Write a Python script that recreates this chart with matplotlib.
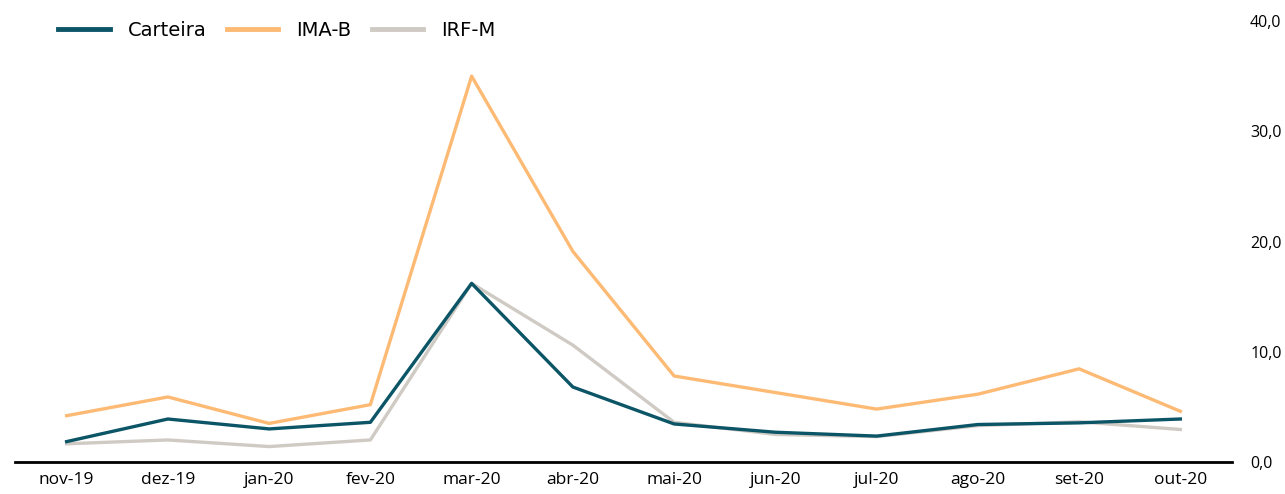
import numpy as np
import matplotlib.pyplot as plt
from matplotlib.lines import Line2D

meses = ["nov-19", "dez-19", "jan-20", "fev-20", "mar-20", "abr-20",
         "mai-20", "jun-20", "jul-20", "ago-20", "set-20", "out-20"]

carteira = [1.85, 3.9, 3.0, 3.6, 16.2, 6.8, 3.45, 2.7, 2.35, 3.4, 3.55, 3.9]
ima_b = [4.2, 5.9, 3.5, 5.2, 35.0, 19.1, 7.8, 6.3, 4.8, 6.15, 8.45, 4.6]
irf_m = [1.65, 2.0, 1.4, 2.0, 16.2, 10.6, 3.6, 2.5, 2.3, 3.3, 3.65, 2.95]

yticks = [0, 10, 20, 30, 40]

cores = {"Carteira": "#0B5567", "IMA-B": "#FDBA74", "IRF-M": "#D0CAC4"}

fig = plt.figure(figsize=(12.85, 4.94), dpi=100)
ax = fig.add_axes([15/1285, 32/494, (1232-15)/1285, (462-21)/494])

x = np.arange(len(meses))
ax.plot(x, irf_m, color=cores["IRF-M"], lw=2.4, zorder=2)
ax.plot(x, ima_b, color=cores["IMA-B"], lw=2.4, zorder=3)
ax.plot(x, carteira, color=cores["Carteira"], lw=2.4, zorder=4)

ax.set_xlim(-0.51, 11.51)
ax.set_ylim(0, 40)
ax.set_xticks(x)
ax.set_xticklabels(meses, fontsize=12.5, family="Open Sans")
ax.set_yticks(yticks)
ax.set_yticklabels([f"{v:.1f}".replace(".", ",") for v in yticks], fontsize=11.5, family="Open Sans")
ax.yaxis.tick_right()
ax.tick_params(axis="y", length=0, pad=13)
ax.tick_params(axis="x", length=0, pad=7)

for s in ["top", "left", "right"]:
    ax.spines[s].set_visible(False)
ax.spines["bottom"].set_linewidth(2)
ax.spines["bottom"].set_color("black")

nomes = ["Carteira", "IMA-B", "IRF-M"]
handles = [Line2D([], [], color=cores[n], lw=3.5) for n in nomes]
fig.legend(handles, nomes, loc="center left",
           bbox_to_anchor=(58/1285, 1 - 30/494), ncol=3, frameon=False,
           borderpad=0, borderaxespad=0,
           prop={"family": "DejaVu Sans", "size": 14},
           handlelength=2.65, columnspacing=1.05, handletextpad=0.92)

fig.savefig("out.png", dpi=100)
